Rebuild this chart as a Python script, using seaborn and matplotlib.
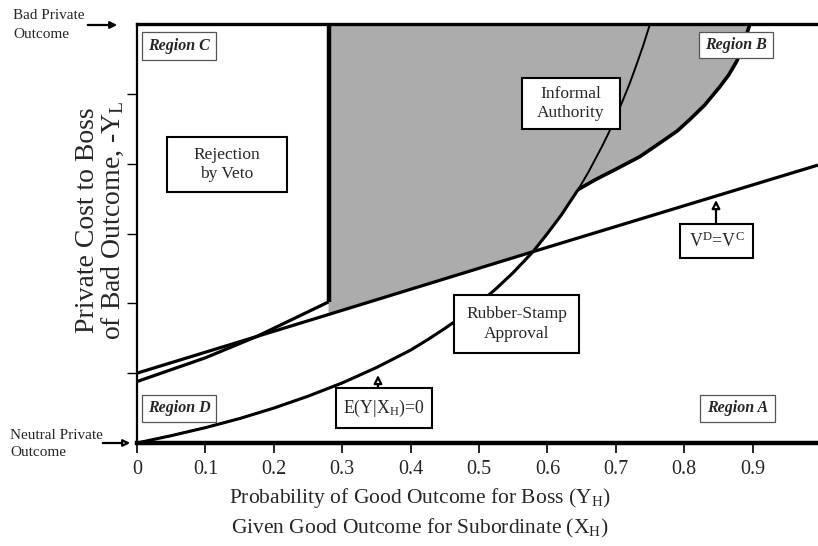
import numpy as np
import pandas as pd
import matplotlib
matplotlib.use("Agg")
import matplotlib.pyplot as plt
import seaborn as sns
from matplotlib.patches import Rectangle, Polygon

# ---------------- data ----------------
# E(Y|X_H)=0 curve
e_x = [0.0, 0.05, 0.10, 0.15, 0.20, 0.25, 0.30, 0.35, 0.40, 0.425, 0.45, 0.475,
       0.50, 0.525, 0.55, 0.579, 0.60, 0.62, 0.645, 0.66, 0.68, 0.69, 0.70,
       0.71, 0.72, 0.73, 0.74, 0.75]
e_y = [0.0, 0.105, 0.22, 0.35, 0.50, 0.67, 0.86, 1.08, 1.33, 1.48, 1.64, 1.81,
       2.00, 2.21, 2.44, 2.74, 3.00, 3.26, 3.63, 3.88, 4.25, 4.45, 4.67,
       4.90, 5.14, 5.41, 5.69, 6.00]
# V^D = V^C line
vd_x = [0.0, 0.175, 0.28, 0.579, 0.9956]
vd_y = [1.00, 1.525, 1.84, 2.74, 3.98]
# veto indifference line (ends at the vertical cut-off)
veto_x = [0.0, 0.10, 0.175, 0.28]
veto_y = [0.88, 1.22, 1.525, 2.02]
# vertical cut-off
cut_x = [0.28, 0.28]
cut_y = [2.02, 6.0]
# informal-authority frontier
ia_x = [0.645, 0.67, 0.70, 0.735, 0.765, 0.79, 0.808, 0.83, 0.852, 0.865,
        0.877, 0.887, 0.896]
ia_y = [3.63, 3.77, 3.92, 4.10, 4.30, 4.47, 4.63, 4.84, 5.10, 5.27,
        5.47, 5.71, 6.00]

x_ticks = [0, 0.1, 0.2, 0.3, 0.4, 0.5, 0.6, 0.7, 0.8, 0.9]
x_ticklabels = ["0", "0.1", "0.2", "0.3", "0.4", "0.5", "0.6", "0.7", "0.8", "0.9"]
y_max = 6.0
x_max = 0.9956

# ---------------- style ----------------
sns.set_style("white")
plt.rcParams["font.family"] = ["Liberation Serif", "DejaVu Serif"]
plt.rcParams["mathtext.fontset"] = "custom"
plt.rcParams["mathtext.rm"] = "Liberation Serif"
plt.rcParams["mathtext.it"] = "Liberation Serif:italic"
plt.rcParams["mathtext.bf"] = "Liberation Serif:bold"

W, H = 818, 546
fig = plt.figure(figsize=(W / 100, H / 100), dpi=100)
AX_L, AX_R, AX_T, AX_B = 137, 818, 24, 443
ax = fig.add_axes([AX_L / W, (H - AX_B) / H, (AX_R - AX_L) / W, (AX_B - AX_T) / H])
ax.set_xlim(0, x_max)
ax.set_ylim(0, y_max)


def px2data(px, py):
    return ((px - AX_L) / (AX_R - AX_L) * x_max, (AX_B - py) / (AX_B - AX_T) * y_max)


# ---------------- shaded region ----------------
e_arr_x, e_arr_y = np.array(e_x), np.array(e_y)
mask = (e_arr_x >= 0.579) & (e_arr_x <= 0.645)
ia_arr_x, ia_arr_y = np.array(ia_x), np.array(ia_y)
vd_arr_x, vd_arr_y = np.array(vd_x), np.array(vd_y)
vmask = (vd_arr_x >= 0.28) & (vd_arr_x <= 0.579)
poly_x = np.concatenate([[cut_x[0], cut_x[0]], ia_arr_x[::-1], e_arr_x[mask][::-1], vd_arr_x[vmask][::-1]])
poly_y = np.concatenate([[vd_arr_y[vmask][0], y_max], ia_arr_y[::-1], e_arr_y[mask][::-1], vd_arr_y[vmask][::-1]])
ax.add_patch(Polygon(np.column_stack([poly_x, poly_y]), closed=True,
                     facecolor="#acacac", edgecolor="none", zorder=1))

# ---------------- curves ----------------
def draw(xs, ys, lw):
    sns.lineplot(x=xs, y=ys, ax=ax, color="black", linewidth=lw, sort=False,
                 estimator=None, zorder=3, solid_capstyle="butt")

draw(e_x, e_y, 1.4)
low = e_arr_x <= 0.645
draw(list(e_arr_x[low]), list(e_arr_y[low]), 2.2)
draw(vd_x, vd_y, 2.3)
draw(veto_x, veto_y, 2.3)
draw(cut_x, cut_y, 3.2)
draw(ia_x, ia_y, 2.6)

# ---------------- axes styling ----------------
ax.spines["right"].set_visible(False)
ax.spines["left"].set_linewidth(1.6)
ax.spines["top"].set_linewidth(2.4)
ax.spines["bottom"].set_linewidth(3.2)
for s in ["left", "top", "bottom"]:
    ax.spines[s].set_color("black")
    ax.spines[s].set_zorder(4)

ax.set_xticks(x_ticks)
ax.set_xticklabels(x_ticklabels, fontsize=14.5)
ax.set_yticks([1, 2, 3, 4, 5])
ax.set_yticklabels([])
ax.set_yticks([0.5, 1.5, 2.5, 3.5, 4.5, 5.5], minor=True)
ax.tick_params(axis="x", direction="out", length=7, width=1.2, pad=5, color="black")
ax.tick_params(axis="y", which="major", direction="out", length=7, width=1.0, color="black")
ax.tick_params(axis="y", which="minor", direction="out", length=3, width=0.6, color="#444444")
ax.tick_params(bottom=True, left=True, top=False, right=False)
ax.set_xlabel("")
ax.set_ylabel("")

# ---------------- axis titles ----------------
fig.text(420 / W, 1 - 498 / H, r"Probability of Good Outcome for Boss (Y$_{\mathrm{H}}$)",
         ha="center", va="center", fontsize=15.5)
fig.text(420 / W, 1 - 528 / H, r"Given Good Outcome for Subordinate (X$_{\mathrm{H}}$)",
         ha="center", va="center", fontsize=15.5)
fig.text(88 / W, 1 - 220 / H, "Private Cost to Boss", rotation=90,
         ha="center", va="center", fontsize=20)
fig.text(113 / W, 1 - 220 / H, r"of Bad Outcome, -Y$_{\mathrm{L}}$", rotation=90,
         ha="center", va="center", fontsize=20)

# outcome markers at the left
fig.text(13 / W, 1 - 25 / H, "Bad Private\nOutcome", ha="left", va="center",
         fontsize=11, linespacing=1.55)
fig.text(10 / W, 1 - 444 / H, "Neutral Private\nOutcome", ha="left", va="center",
         fontsize=11, linespacing=1.4)
fig.add_artist(matplotlib.patches.FancyArrowPatch(
    (85 / W, 1 - 25 / H), (120 / W, 1 - 25 / H), transform=fig.transFigure,
    arrowstyle="-|>", mutation_scale=10, lw=1.6, color="black"))
fig.add_artist(matplotlib.patches.FancyArrowPatch(
    (100 / W, 1 - 443 / H), (133 / W, 1 - 443 / H), transform=fig.transFigure,
    arrowstyle="-|>", mutation_scale=10, lw=1.6, ec="black", fc="white"))


# ---------------- boxed labels ----------------
def box(px0, py0, px1, py1, text, lw=1.5, ec="black", **kw):
    x0, y1 = px2data(px0, py0)
    x1, y0 = px2data(px1, py1)
    ax.add_patch(Rectangle((x0, y0), x1 - x0, y1 - y0, facecolor="white",
                           edgecolor=ec, linewidth=lw, zorder=5, clip_on=False))
    ax.text((x0 + x1) / 2, (y0 + y1) / 2, text, ha="center", va="center",
            zorder=6, **kw)


region_kw = dict(fontsize=11.5, style="italic", fontweight="bold")
box(142, 32, 216, 60, "Region C", lw=0.9, ec="#555555", **region_kw)
box(699, 32, 773, 58, "Region B", lw=0.9, ec="#555555", **region_kw)
box(142, 395, 216, 422, "Region D", lw=0.9, ec="#555555", **region_kw)
box(700, 395, 775, 422, "Region A", lw=0.9, ec="#555555", **region_kw)

lab_kw = dict(fontsize=12.5, linespacing=1.25)
box(167, 137, 287, 192, "Rejection\nby Veto", **lab_kw)
box(522, 78, 620, 129, "Informal\nAuthority", **lab_kw)
box(454, 295, 579, 353, "Rubber-Stamp\nApproval", **lab_kw)
box(680, 224, 753, 258, r"V$^{\mathrm{D}}$=V$^{\mathrm{C}}$", fontsize=13)
box(336, 388, 432, 428, r"E(Y|X$_{\mathrm{H}}$)=0", fontsize=12.8)

# pointer arrows from boxes to curves
for (px, py0, py1) in [(716, 224, 200), (378, 388, 375)]:
    a = px2data(px, py0)
    b = px2data(px, py1)
    ax.add_patch(matplotlib.patches.FancyArrowPatch(
        a, b, arrowstyle="-|>", mutation_scale=12, lw=1.6, ec="black", fc="white",
        zorder=6, shrinkA=0, shrinkB=0))

fig.savefig("out.png", dpi=100)
